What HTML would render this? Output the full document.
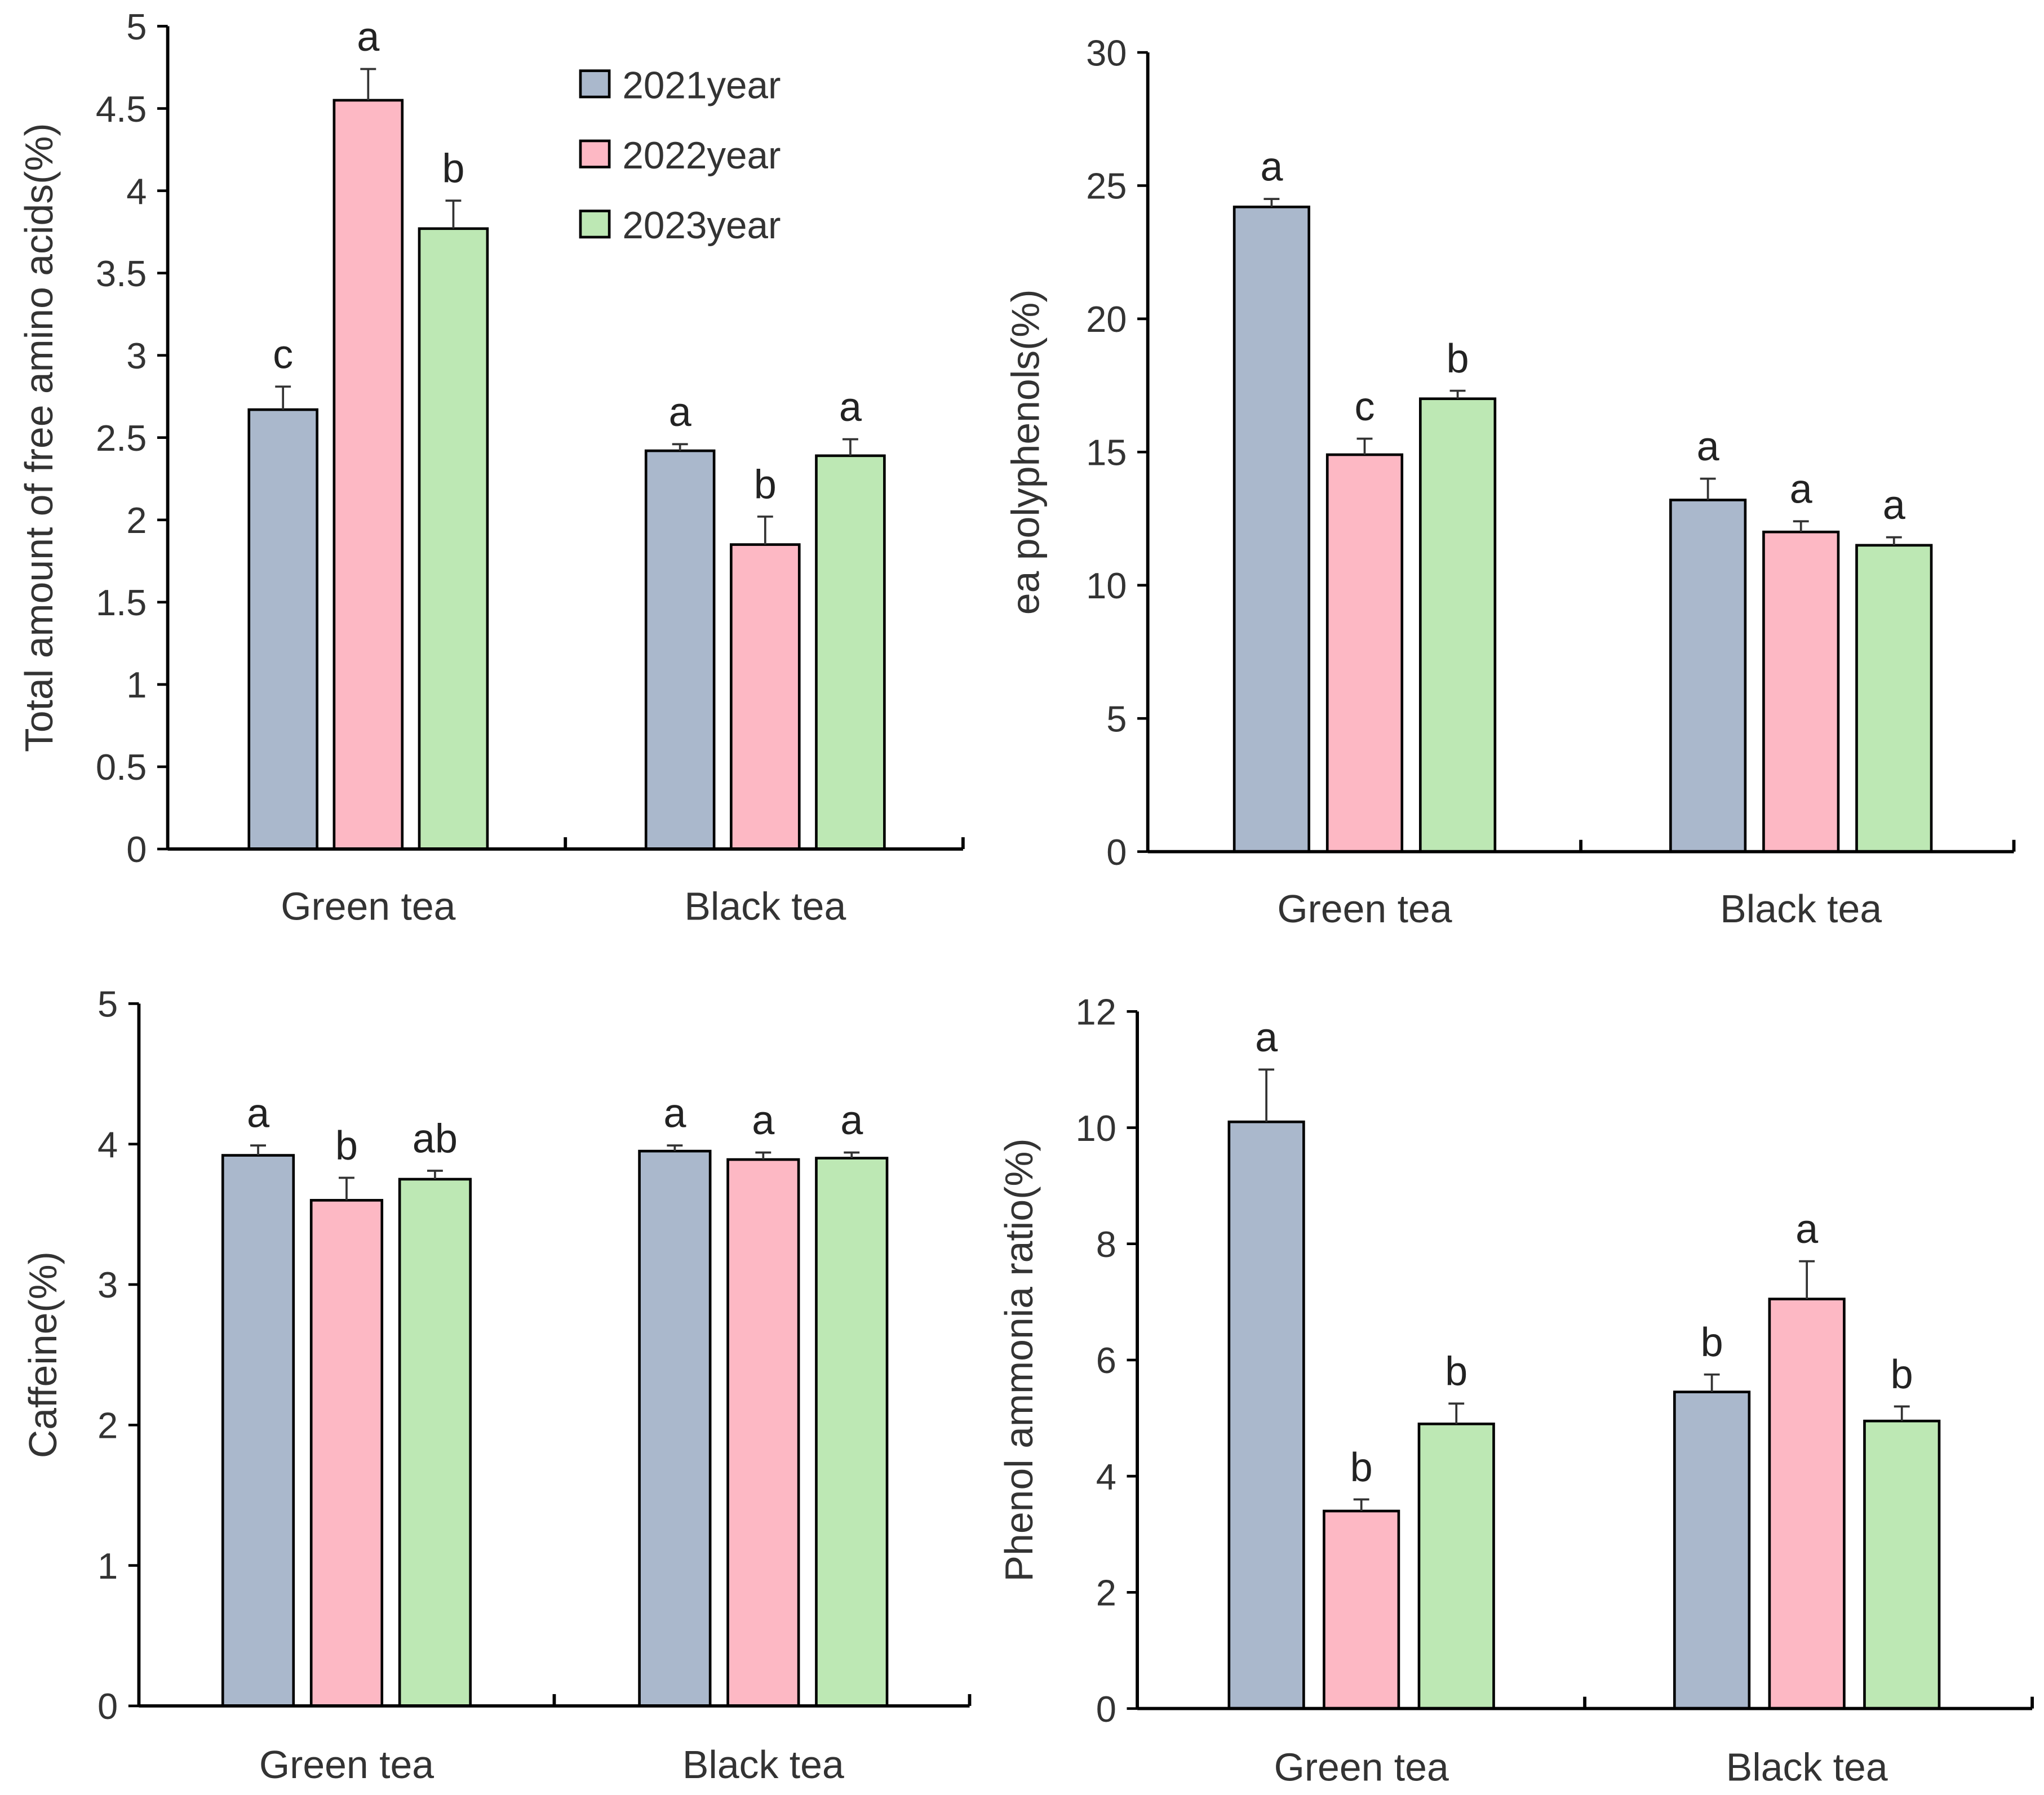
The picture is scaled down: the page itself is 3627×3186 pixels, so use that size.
<!DOCTYPE html>
<html><head><meta charset="utf-8">
<style>
html,body{margin:0;padding:0;background:#fff;}
svg{display:block;font-family:"Liberation Sans",Arial,sans-serif;}
</style></head>
<body>
<svg id="chart" width="3627" height="3186" viewBox="0 0 1560 1370" preserveAspectRatio="none" xmlns="http://www.w3.org/2000/svg"></svg>
<script>
const categories = ["Green tea", "Black tea"];
const seriesNames = ["2021year", "2022year", "2023year"];
const colors = ["#aab8cc", "#fdb8c4", "#bde8b4"];

const aminoValues = [[2.67, 2.42], [4.55, 1.85], [3.77, 2.39]];
const aminoErrors = [[0.14, 0.04], [0.19, 0.17], [0.17, 0.10]];
const aminoLetters = [["c", "a"], ["a", "b"], ["b", "a"]];
const aminoTicks = ["0","0.5","1","1.5","2","2.5","3","3.5","4","4.5","5"];

const polyValues = [[24.2, 13.2], [14.9, 12.0], [17.0, 11.5]];
const polyErrors = [[0.3, 0.8], [0.6, 0.4], [0.3, 0.3]];
const polyLetters = [["a", "a"], ["c", "a"], ["b", "a"]];
const polyTicks = ["0","5","10","15","20","25","30"];

const cafValues = [[3.92, 3.95], [3.60, 3.89], [3.75, 3.90]];
const cafErrors = [[0.07, 0.04], [0.16, 0.05], [0.06, 0.04]];
const cafLetters = [["a", "a"], ["b", "a"], ["ab", "a"]];
const cafTicks = ["0","1","2","3","4","5"];

const ratioValues = [[10.1, 5.45], [3.4, 7.05], [4.9, 4.95]];
const ratioErrors = [[0.9, 0.3], [0.2, 0.65], [0.35, 0.25]];
const ratioLetters = [["a", "b"], ["b", "a"], ["b", "b"]];
const ratioTicks = ["0","2","4","6","8","10","12"];

const svg = document.getElementById('chart');
const NS = "http://www.w3.org/2000/svg";
function mk(tag, attrs, parent, text) {
  const e = document.createElementNS(NS, tag);
  for (const k in attrs) e.setAttribute(k, attrs[k]);
  if (text !== undefined) e.textContent = text;
  (parent || svg).appendChild(e);
  return e;
}

const panels = [
  {id:"amino", title:"Total amount of free amino acids(%)", values:aminoValues, errors:aminoErrors, letters:aminoLetters, ticks:aminoTicks, max:5,
   x0:128, x1:735, top:20, bottom:648, titleX:30, groupStart:[190,493], barW:52, step:65, catY:700},
  {id:"polyphenols", title:"ea polyphenols(%)", values:polyValues, errors:polyErrors, letters:polyLetters, ticks:polyTicks, max:30,
   x0:876, x1:1537, top:40, bottom:650, titleX:783, groupStart:[942,1275], barW:57, step:71, catY:702},
  {id:"caffeine", title:"Caffeine(%)", values:cafValues, errors:cafErrors, letters:cafLetters, ticks:cafTicks, max:5,
   x0:106, x1:740, top:766, bottom:1302, titleX:33, groupStart:[170,488], barW:54, step:67.5, catY:1355},
  {id:"phenol-ammonia", title:"Phenol ammonia ratio(%)", values:ratioValues, errors:ratioErrors, letters:ratioLetters, ticks:ratioTicks, max:12,
   x0:868, x1:1551, top:772, bottom:1304, titleX:778, groupStart:[938,1278], barW:57, step:72.5, catY:1357}
];

panels.forEach(p => {
  const g = mk('g', {});
  
  
  const y = v => p.bottom - (v / p.max) * (p.bottom - p.top);
  p.values.forEach((ser, s) => {
    ser.forEach((v, c) => {
      const bx = p.groupStart[c] + s * p.step;
      const r = mk('rect', {x:bx, y:y(v), width:p.barW, height:p.bottom - y(v), fill:colors[s], stroke:"#000", "stroke-width":2}, g);
      
      
      const cx = bx + p.barW / 2;
      const e = p.errors[s][c];
      const eb = mk('path', {d:`M${cx},${y(v)}V${y(v+e)}M${cx-6},${y(v+e)}H${cx+6}`, stroke:"#333", "stroke-width":1.6, fill:"none"}, g);
      
      
      const t = mk('text', {x:cx, y:y(v+e) - 14, "font-size":31, "text-anchor":"middle", fill:"#222"}, g, p.letters[s][c]);
      
      
    });
  });
  const ya = mk('line', {x1:p.x0, y1:p.top, x2:p.x0, y2:p.bottom, stroke:"#000", "stroke-width":2.5}, g);
  
  
  const xa = mk('line', {x1:p.x0, y1:p.bottom, x2:p.x1, y2:p.bottom, stroke:"#000", "stroke-width":2.5}, g);
  
  
  const mid = (p.x0 + p.x1) / 2;
  [mid, p.x1].forEach(tx => mk('line', {x1:tx, y1:p.bottom - 9, x2:tx, y2:p.bottom, stroke:"#000", "stroke-width":2.5}, g));
  p.ticks.forEach(tk => {
    const ty = y(parseFloat(tk));
    mk('line', {x1:p.x0 - 8, y1:ty, x2:p.x0, y2:ty, stroke:"#000", "stroke-width":2}, g);
    const t = mk('text', {x:p.x0 - 16, y:ty + 10, "font-size":28, "text-anchor":"end", fill:"#333"}, g, tk);
    
    
  });
  categories.forEach((c, i) => {
    const cx = p.groupStart[i] + p.step + p.barW / 2;
    const t = mk('text', {x:cx, y:p.catY + 2, "font-size":30, "text-anchor":"middle", fill:"#333"}, g, c);
    
    
  });
  const cy = (p.top + p.bottom) / 2;
  const tt = mk('text', {x:p.titleX, y:cy, "font-size":30, "text-anchor":"middle", fill:"#333", transform:`rotate(-90 ${p.titleX} ${cy})`, dy:10}, g, p.title);
  
  
});

const lg = mk('g', {});


seriesNames.forEach((n, i) => {
  const ly = 54 + i * 53.5;
  const r = mk('rect', {x:443, y:ly, width:22, height:20, fill:colors[i], stroke:"#000", "stroke-width":2}, lg);
  
  
  const t = mk('text', {x:475, y:ly + 21, "font-size":29, fill:"#333"}, lg, n);
  
  
});
</script>
</body></html>
